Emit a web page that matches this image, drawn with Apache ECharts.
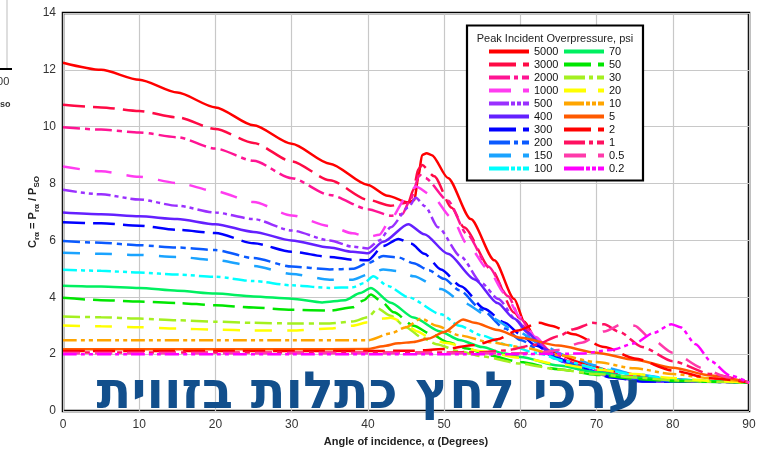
<!DOCTYPE html>
<html>
<head>
<meta charset="utf-8">
<script src="https://cdn.jsdelivr.net/npm/echarts@6/dist/echarts.min.js"></script>
<style>
  html, body { margin: 0; padding: 0; background: #fff; }
  #chart { width: 767px; height: 452px; }
</style>
</head>
<body>
<div id="chart"></div>
<script>
// Reflected pressure coefficient C(r,alpha) versus angle of incidence, one curve per peak incident overpressure (psi)
const pressures = ['5000', '3000', '2000', '1000', '500', '400', '300', '200', '150', '100',
                   '70', '50', '30', '20', '10', '5', '2', '1', '0.5', '0.2'];

const xTicks = { min: 0, max: 90, step: 10 };
const yTicks = { min: 0, max: 14, step: 2 };

// [angle (deg), coefficient]
const p5000 = [[0,12.25],[5,12.0],[10,11.65],[15,11.2],[20,10.68],[25,10.05],[30,9.4],[35,8.7],[40,7.95],[42.6,7.57],[45.3,7.33],[46.1,7.42],[46.6,8.2],[47.1,9.0],[47.7,9.07],[48.4,9.0],[50.5,8.2],[53.5,6.75],[56.6,5.3],[59.2,3.94],[60.5,3.15],[62.3,2.4],[64,2.1],[68,1.7],[72,1.4],[78,1.15],[84,1.05],[90,1.0]];
const p3000 = [[0,10.77],[5,10.68],[10,10.55],[15,10.33],[20,9.92],[25,9.43],[30,8.78],[35,8.12],[40,7.43],[43,7.22],[45.3,7.33],[46,7.8],[46.6,8.5],[47.1,8.65],[48.7,8.26],[51,7.15],[52.6,6.46],[56.2,4.97],[59.2,3.46],[61,2.8],[62.5,2.3],[64,2.0],[68,1.6],[72,1.32],[78,1.12],[84,1.04],[90,1.0]];
const p2000 = [[0,9.98],[5,9.9],[10,9.8],[15,9.63],[20,9.23],[25,8.8],[30,8.19],[35,7.6],[40,7.1],[43,6.87],[44.5,6.92],[45.5,7.4],[46.8,8.3],[47.5,8.2],[50.5,7.4],[53,6.22],[55.8,5.08],[58.4,4.04],[60,3.25],[62,2.55],[64.5,1.95],[68,1.55],[72,1.28],[78,1.1],[90,1.0]];
const p1000 = [[0,8.6],[5,8.43],[10,8.24],[15,8.02],[20,7.73],[25,7.35],[30,6.88],[35,6.5],[38,6.25],[40,6.12],[41.5,6.2],[43,6.75],[45,7.5],[46.3,7.9],[48.3,7.6],[51,6.8],[53,5.88],[55.8,4.98],[57.9,4.15],[60,3.3],[62,2.6],[64.5,1.9],[68,1.5],[72,1.25],[78,1.08],[90,1.0]];
const p500 = [[0,7.78],[5,7.62],[10,7.44],[15,7.22],[20,6.98],[25,6.75],[30,6.35],[35,6.0],[38,5.78],[40,5.72],[41.5,6.0],[43,6.46],[45.3,7.16],[46.3,7.5],[47.5,7.2],[49.2,6.46],[52.2,5.43],[54.9,4.5],[57.1,3.94],[59.5,3.2],[61.5,2.6],[64.5,1.85],[68,1.45],[72,1.2],[77,1.06],[90,1.0]];
const p400 = [[0,6.98],[5,6.92],[10,6.85],[15,6.75],[20,6.57],[25,6.3],[30,6.0],[35,5.75],[38,5.6],[40,5.55],[42,5.95],[45.3,6.57],[47.4,6.22],[50.5,5.53],[54,4.63],[57,3.8],[59.2,3.25],[61,2.75],[63,2.2],[66,1.7],[70,1.35],[73,1.15],[76,1.04],[90,1.02]];
const p300 = [[0,6.64],[5,6.6],[10,6.52],[15,6.37],[20,6.26],[25,5.9],[30,5.6],[35,5.42],[38,5.32],[40,5.3],[42,5.8],[44,6.05],[45.7,5.88],[47.4,5.53],[49.6,4.98],[52.2,4.39],[55.3,3.6],[57.9,3.11],[60,2.7],[62,2.3],[65,1.85],[68,1.5],[72,1.18],[76,1.04],[90,1.02]];
const p200 = [[0,5.98],[5,5.92],[10,5.83],[15,5.75],[20,5.66],[25,5.38],[30,5.08],[35,4.98],[38,5.0],[40,5.2],[42,5.45],[44,5.4],[46,5.2],[48,4.95],[50,4.65],[52,4.25],[55,3.55],[58,2.9],[60,2.5],[63,2.05],[66,1.7],[70,1.38],[75,1.15],[80,1.05],[90,1.0]];
const p150 = [[0,5.57],[5,5.53],[10,5.49],[15,5.42],[20,5.31],[25,5.1],[30,4.82],[35,4.62],[38,4.62],[40,4.8],[42,4.98],[44,4.92],[46,4.74],[49.6,4.29],[52.6,3.8],[56,3.3],[59.7,2.78],[63,2.3],[66,1.95],[70,1.6],[75,1.3],[80,1.12],[85,1.04],[90,1.0]];
const p100 = [[0,4.97],[5,4.93],[10,4.87],[15,4.8],[20,4.72],[25,4.57],[30,4.42],[35,4.33],[38,4.35],[39.5,4.5],[40.7,4.74],[42.6,4.4],[45.3,4.0],[49.6,3.4],[52,3.0],[55,2.65],[58.4,2.32],[62,2.05],[66,1.75],[70,1.5],[75,1.28],[80,1.12],[85,1.04],[90,1.0]];
const p70 = [[0,4.41],[5,4.38],[10,4.33],[15,4.23],[20,4.13],[25,4.03],[30,3.95],[34,3.82],[37,3.9],[39,4.15],[40.4,4.33],[43,3.81],[46,3.29],[49.5,2.8],[52,2.5],[55,2.25],[58,2.02],[60,1.9],[65,1.6],[70,1.36],[75,1.18],[80,1.08],[90,1.0]];
const p50 = [[0,3.98],[5,3.9],[10,3.85],[15,3.8],[20,3.72],[25,3.64],[30,3.56],[35,3.53],[38,3.65],[39.5,3.9],[40.4,4.1],[41.7,3.87],[43.4,3.47],[46,3.0],[48.3,2.7],[50.5,2.42],[53,2.2],[56,1.95],[60,1.72],[65,1.47],[70,1.27],[75,1.13],[80,1.05],[90,1.0]];
const p30 = [[0,3.32],[5,3.3],[10,3.25],[15,3.19],[20,3.14],[25,3.1],[30,3.08],[35,3.08],[38,3.15],[40,3.3],[41.3,3.6],[43,3.35],[45,2.95],[47,2.6],[49,2.35],[52,2.1],[55,1.92],[60,1.67],[65,1.46],[70,1.3],[75,1.18],[80,1.08],[85,1.03],[90,1.0]];
const p20 = [[0,3.01],[5,2.98],[10,2.95],[15,2.9],[20,2.86],[25,2.83],[30,2.83],[35,2.9],[38,3.0],[40,3.12],[42,3.25],[43,3.28],[44.5,3.15],[46.5,2.8],[48,2.6],[50,2.4],[55,2.1],[60,1.87],[65,1.65],[70,1.46],[75,1.3],[80,1.16],[85,1.06],[90,1.0]];
const p10 = [[0,2.49],[10,2.49],[20,2.49],[30,2.49],[40,2.49],[43,2.73],[45,2.95],[47,3.25],[49,3.0],[52,2.66],[56,2.42],[60,2.25],[65,1.97],[70,1.72],[75,1.5],[80,1.3],[85,1.15],[90,1.0]];
const p5 = [[0,2.17],[10,2.17],[20,2.17],[30,2.17],[40,2.18],[42,2.28],[44,2.38],[46,2.43],[48,2.55],[50,2.78],[52.5,3.22],[54,3.1],[57,2.85],[60,2.58],[65,2.3],[70,2.05],[75,1.8],[80,1.52],[85,1.25],[90,1.0]];
const p2 = [[0,2.11],[10,2.11],[20,2.11],[30,2.11],[40,2.11],[46,2.12],[50,2.18],[54,2.32],[57,2.52],[59.5,2.82],[62.5,3.1],[64,3.0],[67,2.7],[71,2.25],[75,1.85],[80,1.42],[85,1.15],[90,1.0]];
const p1 = [[0,2.06],[10,2.06],[20,2.06],[30,2.06],[40,2.06],[50,2.06],[55,2.07],[58,2.13],[62,2.33],[65,2.63],[67,2.88],[69.5,3.1],[71,3.05],[73,2.78],[76,2.25],[80,1.75],[85,1.3],[90,1.0]];
const p05 = [[0,2.03],[10,2.03],[20,2.03],[30,2.03],[40,2.03],[50,2.03],[60,2.03],[63,2.07],[65,2.15],[68,2.4],[71,2.8],[73.5,3.07],[75,3.0],[77,2.58],[80,2.05],[84,1.5],[87,1.2],[90,1.0]];
const p02 = [[0,2.0],[10,2.0],[20,2.0],[30,2.0],[40,2.0],[50,2.0],[60,2.0],[68,2.02],[72,2.15],[75,2.38],[77.5,2.75],[79.8,3.05],[81,2.95],[83,2.35],[85,1.75],[87.5,1.25],[90,1.0]];

const curves = [p5000, p3000, p2000, p1000, p500, p400, p300, p200, p150, p100,
                p70, p50, p30, p20, p10, p5, p2, p1, p05, p02];

const colors = ['#ff0000', '#ff0a45', '#ff1493', '#ff3cf0', '#9a30ff', '#6420ff', '#0000ff', '#0a5aff', '#1aa3ff', '#00ffff',
                '#00f060', '#00e600', '#a4f020', '#ffff00', '#ffa500', '#ff5a00', '#ff0000', '#ff1060', '#ff3aaa', '#ff00ff'];

// line patterns cycle: solid, long-dash, dash-dot, long-gap dash, dash-dot-dot
const solid = 'solid';
const longDash = [22, 8];
const dashDot = [17, 5, 5, 5];
const gapDash = [17, 15];
const dashDotDot = [14, 4, 4, 4, 4, 4];
const plotDash = [solid, longDash, dashDot, gapDash, dashDotDot, solid, longDash, dashDot, gapDash, dashDotDot];

const keySolid = 'solid';
const keyLongDash = [27, 7, 6, 10];
const keyDashDot = [21, 4, 4, 4, 7, 10];
const keyGapDash = [22, 12, 6, 10];
const keyDashDotDot = [20, 2, 4, 2, 4, 2, 6, 10];
const keyDash = [keySolid, keyLongDash, keyDashDot, keyGapDash, keyDashDotDot];

const series = pressures.map((name, i) => ({
  name: name,
  type: 'line',
  data: curves[i],
  showSymbol: false,
  symbol: 'none',
  smooth: 0.25,
  smoothMonotone: 'x',
  lineStyle: { color: colors[i], width: 2.5, type: plotDash[i % 10], cap: 'butt' },
  itemStyle: { color: colors[i] },
  emphasis: { disabled: true },
  silent: true,
  z: 2
}));

function legendItems(names, offset) {
  return names.map((name, k) => ({
    name: name,
    itemStyle: { opacity: 0, color: 'transparent', borderWidth: 0 },
    lineStyle: { width: 4, type: keyDash[(offset + k) % 5], color: colors[offset + k] }
  }));
}

const legendCommon = {
  orient: 'vertical',
  itemWidth: 40,
  itemHeight: 10,
  itemGap: 2.0,
  selectedMode: false,
  textStyle: { fontFamily: 'Liberation Sans, Arial, sans-serif', fontSize: 11, color: '#111' },
  padding: 0,
  z: 5
};

const chart = echarts.init(document.getElementById('chart'), null, { renderer: 'canvas' });

chart.setOption({
  animation: false,
  backgroundColor: '#fff',
  grid: {
    left: 63, right: 18, top: 13, bottom: 34,
    show: true, borderColor: '#000', borderWidth: 2.5, backgroundColor: 'transparent'
  },
  xAxis: {
    type: 'value',
    min: xTicks.min, max: xTicks.max, interval: xTicks.step,
    name: 'Angle of incidence, α (Degrees)',
    nameLocation: 'middle',
    nameGap: 25,
    nameMoveOverlap: false,
    nameTextStyle: { fontFamily: 'Liberation Sans, Arial, sans-serif', fontSize: 11, fontWeight: 'bold', color: '#222' },
    axisLine: { show: false },
    axisTick: { show: false },
    axisLabel: { fontFamily: 'Liberation Sans, Arial, sans-serif', fontSize: 12, color: '#333', margin: 8 },
    splitLine: { show: true, lineStyle: { color: '#c8c8c8', width: 1.2 } }
  },
  yAxis: {
    type: 'value',
    min: yTicks.min, max: yTicks.max, interval: yTicks.step,
    name: '{m|C}{s|rα}{m| = P}{s|rα}{m| / P}{s|SO}',
    nameLocation: 'middle',
    nameGap: 25,
    nameMoveOverlap: false,
    nameRotate: 90,
    nameTextStyle: {
      rich: {
        m: { fontFamily: 'Liberation Sans, Arial, sans-serif', fontSize: 11, fontWeight: 'bold', color: '#222', verticalAlign: 'bottom', lineHeight: 14 },
        s: { fontFamily: 'Liberation Sans, Arial, sans-serif', fontSize: 8, fontWeight: 'bold', color: '#222', verticalAlign: 'bottom', lineHeight: 14, padding: [0, 0, -3, 0] }
      }
    },
    axisLine: { show: false },
    axisTick: { show: false },
    axisLabel: { fontFamily: 'Liberation Sans, Arial, sans-serif', fontSize: 12, color: '#333', margin: 7 },
    splitLine: { show: true, lineStyle: { color: '#c8c8c8', width: 1.2 } }
  },
  legend: [
    Object.assign({}, legendCommon, { left: 487, top: 46, data: legendItems(pressures.slice(0, 10), 0) }),
    Object.assign({}, legendCommon, { left: 562, top: 46, data: legendItems(pressures.slice(10), 10) })
  ],
  graphic: [
    // key box
    { type: 'rect', z: 4, shape: { x: 467, y: 25.5, width: 176, height: 155 },
      style: { fill: '#fff', stroke: '#000', lineWidth: 2.2 } },
    { type: 'text', z: 5, x: 555, y: 39,
      style: { text: 'Peak Incident Overpressure, psi', fill: '#222', font: '11px "Liberation Sans", Arial, sans-serif', textAlign: 'center', textVerticalAlign: 'middle' } },
    // caption across the lower part of the plot
    { type: 'text', z: 10, x: 369, y: 395,
      style: { text: 'ערכי לחץ כתלות בזווית', fill: '#124f8c', font: 'bold 51px "DejaVu Sans", "Liberation Sans", sans-serif', textAlign: 'center', textVerticalAlign: 'middle' } },
    // edge of the neighbouring panel
    { type: 'line', z: 1, shape: { x1: 7, y1: 0, x2: 7, y2: 69 }, style: { stroke: '#c8c8c8', lineWidth: 1.2 } },
    { type: 'line', z: 1, shape: { x1: 0, y1: 69, x2: 12, y2: 69 }, style: { stroke: '#000', lineWidth: 2 } },
    { type: 'text', z: 1, x: -9, y: 82,
      style: { text: '300', fill: '#333', font: '11px "Liberation Sans", Arial, sans-serif', textVerticalAlign: 'middle' } },
    { type: 'text', z: 1, x: 0, y: 105,
      style: { text: 'so', fill: '#333', font: 'bold 9px "Liberation Sans", Arial, sans-serif', textVerticalAlign: 'middle' } }
  ],
  series: series
});
</script>
</body>
</html>
